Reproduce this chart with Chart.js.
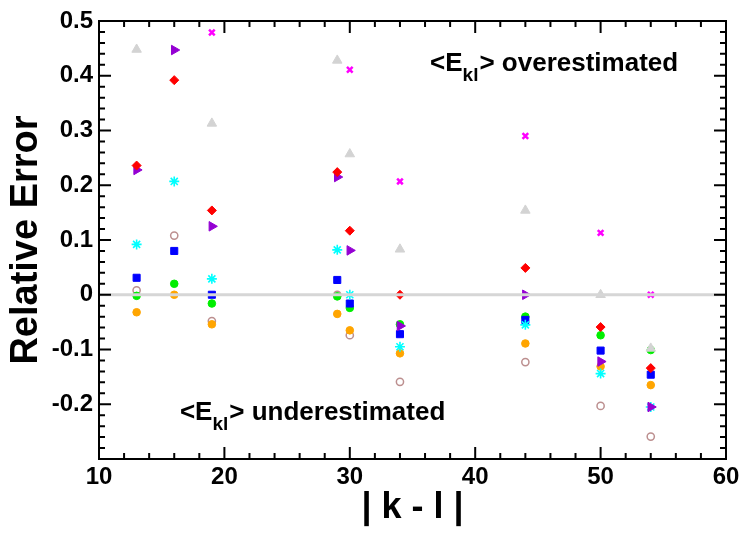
<!DOCTYPE html>
<html>
<head>
<meta charset="utf-8">
<script src="https://cdn.jsdelivr.net/npm/chart.js@4"></script>
<style>
  html, body { margin: 0; padding: 0; background: #fff; }
  #wrap { width: 744px; height: 533px; position: relative; }
</style>
</head>
<body>
<div id="wrap"><canvas id="myChart"></canvas></div>
<script>
const ctx = document.querySelector('#myChart');

// |k - l| positions
const kl = [13, 16, 19, 29, 30, 34, 44, 50, 54];

// relative error of each series (null = not visible / off the plot)
const grayTri    = [0.448, null, 0.313, 0.428, 0.257, 0.083, 0.154, 0.000, -0.098];
const redDiamond = [0.236, 0.392, 0.154, 0.224, 0.117, 0.000, 0.049, -0.059, -0.134];
const purpleTri  = [0.228, 0.447, 0.125, 0.215, 0.081, -0.057, 0.000, -0.122, -0.205];
const magentaX   = [null, null, 0.479, null, 0.411, 0.207, 0.290, 0.113, 0.000];
const cyanStar   = [0.092, 0.207, 0.029, 0.082, 0.000, -0.095, -0.055, -0.144, -0.205];
const blueSq     = [0.031, 0.080, 0.000, 0.027, -0.016, -0.072, -0.046, -0.102, -0.146];
const greenDot   = [-0.002, 0.020, -0.016, -0.003, -0.024, -0.054, -0.040, -0.074, -0.101];
const orangeDot  = [-0.032, 0.000, -0.054, -0.035, -0.065, -0.107, -0.089, -0.131, -0.165];
const brownRing  = [0.008, 0.108, -0.048, 0.000, -0.074, -0.159, -0.123, -0.203, -0.259];

const xTicks = [10, 20, 30, 40, 50, 60];
const yTicks = [-0.3, -0.2, -0.1, 0, 0.1, 0.2, 0.3, 0.4, 0.5];
const yTickLabels = ['', '-0.2', '-0.1', '0', '0.1', '0.2', '0.3', '0.4', '0.5'];

const FONT = '"Liberation Sans", Arial, Helvetica, sans-serif';

const toPoints = (arr) => kl.map((x, i) => ({x: x, y: arr[i]})).filter(p => p.y !== null);

const serie = (arr, style) => Object.assign({
    data: toPoints(arr),
    showLine: false,
    pointBorderWidth: 1
}, style);

const datasets = [
    serie(grayTri,    {pointStyle: 'triangle', pointRadius: 5.5, backgroundColor: '#d3d3d3', borderColor: '#d3d3d3'}),
    serie(redDiamond, {pointStyle: 'rectRot', pointRadius: 4.5, backgroundColor: '#ff0000', borderColor: '#ff0000'}),
    serie(purpleTri,  {pointStyle: 'triangle', pointRotation: 90, pointRadius: 5.5, backgroundColor: '#9400d3', borderColor: '#9400d3'}),
    serie(magentaX,   {pointStyle: 'crossRot', pointRadius: 4, pointBorderWidth: 2.5, backgroundColor: '#ff00ff', borderColor: '#ff00ff'}),
    serie(cyanStar,   {pointStyle: 'star', pointRadius: 5, pointBorderWidth: 1.6, backgroundColor: '#00ffff', borderColor: '#00ffff'}),
    serie(blueSq,     {pointStyle: 'rect', pointRadius: 5, backgroundColor: '#0000ff', borderColor: '#0000ff'}),
    serie(greenDot,   {pointStyle: 'circle', pointRadius: 3.8, backgroundColor: '#00ee00', borderColor: '#00ee00'}),
    serie(orangeDot,  {pointStyle: 'circle', pointRadius: 3.8, backgroundColor: '#ffa500', borderColor: '#ffa500'}),
    serie(brownRing,  {pointStyle: 'circle', pointRadius: 3.6, pointBorderWidth: 1.5, backgroundColor: '#ffffff', borderColor: '#bc8f8f'})
];

// zero line, frame, inward ticks and the two notes
const decor = {
    id: 'decor',
    afterDatasetsDraw(chart) {
        const c = chart.ctx;
        const area = chart.chartArea;
        const ys = chart.scales.y;
        const y0 = ys.getPixelForValue(0);
        c.save();
        c.strokeStyle = '#d6d6d6';
        c.lineWidth = 3;
        c.beginPath();
        c.moveTo(area.left, y0);
        c.lineTo(area.right, y0);
        c.stroke();
        c.restore();
    },
    afterDraw(chart) {
        const c = chart.ctx;
        const a = chart.chartArea;
        const xs = chart.scales.x;
        const ys = chart.scales.y;
        c.save();
        c.strokeStyle = '#000';
        c.lineWidth = 2;
        c.strokeRect(a.left, a.top, a.right - a.left, a.bottom - a.top);
        c.beginPath();
        for (let v = 10; v <= 60; v += 2) {
            const px = xs.getPixelForValue(v);
            const len = v % 10 === 0 ? 12 : 6;
            c.moveTo(px, a.bottom); c.lineTo(px, a.bottom - len);
            c.moveTo(px, a.top); c.lineTo(px, a.top + len);
        }
        for (let i = -15; i <= 25; i++) {
            const v = i * 0.02;
            const py = ys.getPixelForValue(v);
            const len = i % 5 === 0 ? 12 : 6;
            c.moveTo(a.left, py); c.lineTo(a.left + len, py);
            c.moveTo(a.right, py); c.lineTo(a.right - len, py);
        }
        c.stroke();

        const note = (x, y, rest) => {
            let px = xs.getPixelForValue(x);
            const py = ys.getPixelForValue(y);
            c.fillStyle = '#000';
            c.textBaseline = 'alphabetic';
            c.textAlign = 'left';
            c.font = 'bold 26px ' + FONT;
            c.fillText('<E', px, py);
            px += c.measureText('<E').width;
            c.font = 'bold 19px ' + FONT;
            c.fillText('kl', px, py + 10);
            px += c.measureText('kl').width + 1;
            c.font = 'bold 26px ' + FONT;
            c.fillText('> ' + rest, px, py);
        };
        note(36.4, 0.409, 'overestimated');
        note(16.45, -0.229, 'underestimated');
        c.restore();
    }
};

new Chart(ctx, {
    type: 'scatter',
    data: {datasets: datasets},
    options: {
        responsive: true,
        maintainAspectRatio: false,
        animation: false,
        layout: {padding: {left: 0, top: 21, right: 18, bottom: 0}},
        plugins: {legend: {display: false}, tooltip: {enabled: false}},
        scales: {
            x: {
                type: 'linear',
                min: 10,
                max: 60,
                afterFit: (s) => { s.height = 74; },
                afterBuildTicks: (s) => { s.ticks = xTicks.map(v => ({value: v})); },
                grid: {display: false, drawTicks: false},
                border: {display: false},
                ticks: {
                    padding: 4,
                    color: '#000',
                    font: {family: FONT, size: 24, weight: 'bold'},
                    callback: (v) => String(v)
                },
                title: {
                    display: true,
                    text: '| k - l |',
                    color: '#000',
                    font: {family: FONT, size: 36, weight: 'bold', lineHeight: 1},
                    padding: {top: 0, bottom: 7}
                }
            },
            y: {
                type: 'linear',
                min: -0.3,
                max: 0.5,
                afterFit: (s) => { s.width = 99; },
                afterBuildTicks: (s) => { s.ticks = yTicks.map(v => ({value: v})); },
                grid: {display: false, drawTicks: false},
                border: {display: false},
                ticks: {
                    padding: 6,
                    color: '#000',
                    font: {family: FONT, size: 24, weight: 'bold'},
                    callback: (v, i) => yTickLabels[i]
                },
                title: {
                    display: true,
                    text: 'Relative Error',
                    color: '#000',
                    font: {family: FONT, size: 38, weight: 'bold', lineHeight: 1},
                    padding: {top: 8, bottom: 0}
                }
            }
        }
    },
    plugins: [decor]
});
</script>
</body>
</html>
